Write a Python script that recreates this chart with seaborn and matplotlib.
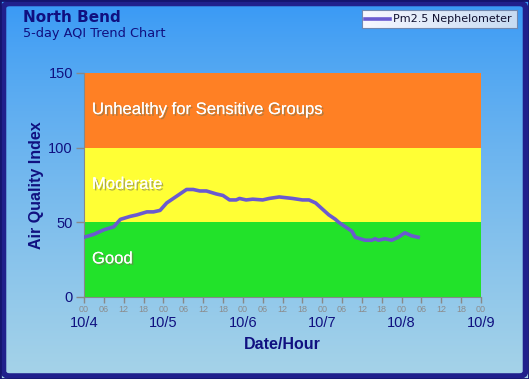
import numpy as np
import pandas as pd
import matplotlib
matplotlib.use("Agg")
import matplotlib.pyplot as plt
import seaborn as sns
import matplotlib.patheffects as pe
from matplotlib.patches import FancyBboxPatch, Rectangle
from matplotlib.lines import Line2D

# hours since 10/4 00:00 and AQI readings
hours = [0, 3, 6, 9, 11, 14, 16, 19, 21, 23, 25, 27, 29, 31, 33, 35, 37, 40, 42,
         44, 46, 47, 49, 51, 54, 56, 59, 61, 63, 66, 68, 70, 71, 73, 74, 76, 77,
         79, 81, 82, 85, 87, 88, 89, 91, 93, 95, 97, 99, 101]
aqi = [40, 42, 45, 47, 52, 54, 55, 57, 57, 58, 63, 66, 69, 72, 72, 71, 71, 69, 68,
       65, 65, 66, 65, 65.5, 65, 66, 67, 66.5, 66, 65, 65, 63, 61, 57, 55, 52, 50,
       47, 44, 40, 38, 38, 39, 38, 39, 38, 40, 43, 41, 40]

band_names = ["Good", "Moderate", "Unhealthy for Sensitive Groups"]
band_lo = [0, 50, 100]
band_hi = [50, 100, 150]
band_colors = ["#22e22a", "#ffff35", "#ff8024"]

day_labels = ["10/4", "10/5", "10/6", "10/7", "10/8", "10/9"]
hour_labels = ["00", "06", "12", "18"]
y_ticks = [0, 50, 100, 150]

series_name = "Pm2.5 Nephelometer"
df = pd.DataFrame({"hour": hours, "aqi": aqi})

navy = "#101080"
W, H = 529, 379
fig = plt.figure(figsize=(W / 100, H / 100), dpi=100)

# background gradient
bg = fig.add_axes([0, 0, 1, 1], zorder=-10)
grad = np.linspace(0, 1, 256).reshape(-1, 1)
top = np.array([0x36, 0x98, 0xf6]) / 255
bot = np.array([0xa6, 0xd3, 0xe8]) / 255
img = top + (bot - top) * grad[..., None] ** 0.8
bg.imshow(img.reshape(256, 1, 3), aspect="auto", extent=[0, 1, 0, 1])
bg.add_patch(FancyBboxPatch((3.5 / W, 3 / H), (W - 7) / W, (H - 6.5) / H,
                            boxstyle="round,pad=0,rounding_size=0.012",
                            fill=False, ec="#20208c", lw=4, transform=bg.transAxes))
bg.add_patch(Rectangle((0, 0), 1, 1, fill=False, ec="#14146e", lw=2, transform=bg.transAxes))
bg.set_xlim(0, 1)
bg.set_ylim(0, 1)
bg.axis("off")

ax = fig.add_axes([84 / W, 1 - 297 / H, 397 / W, 224 / H])
for name, lo, hi, c in zip(band_names, band_lo, band_hi, band_colors):
    ax.axhspan(lo, hi, color=c, zorder=0, lw=0)
    ax.text(2.4, (lo + hi) / 2 + 0.5, name, color="white", fontsize=12,
            family="Liberation Sans", va="center", ha="left", zorder=3,
            path_effects=[pe.withSimplePatchShadow(offset=(1.2, -1.2), shadow_rgbFace="#777755", alpha=0.6), pe.Normal()])

sns.lineplot(data=df, x="hour", y="aqi", ax=ax, color="#6a5ad0", lw=2.6, zorder=4, legend=False)

ax.set_xlim(0, 120)
ax.set_ylim(0, 150)
ax.set_yticks(y_ticks)
ax.set_yticklabels([str(v) for v in y_ticks], color=navy, fontsize=10.5, family="Liberation Sans")
ax.set_xticks(np.arange(0, 121, 6))
ax.set_xticklabels([hour_labels[(i // 6) % 4] for i in range(0, 121, 6)],
                   fontsize=6.5, color="#8c8c8c", family="Liberation Sans")
ax.tick_params(axis="x", length=4, width=1, color="#888888", pad=2)
ax.tick_params(axis="y", length=6, width=1, color="#888888", pad=2)
for i, d in enumerate(day_labels):
    ax.text(i * 24, -12.5, d, transform=ax.transData, ha="center", va="top",
            color=navy, fontsize=10.5, family="Liberation Sans")
ax.set_xlabel("Date/Hour", color=navy, fontsize=11.5, fontweight="bold",
              family="Liberation Sans", labelpad=16)
ax.set_ylabel("Air Quality Index", color=navy, fontsize=11.5, fontweight="bold",
              family="Liberation Sans", labelpad=3)
for s in ["top", "right"]:
    ax.spines[s].set_visible(False)
for s in ["left", "bottom"]:
    ax.spines[s].set_color("#888888")

fig.text(23 / W, 1 - 18 / H, "North Bend", color=navy, fontsize=11, fontweight="bold",
         family="DejaVu Sans", va="center")
fig.text(23 / W, 1 - 33 / H, "5-day AQI Trend Chart", color=navy, fontsize=9.3,
         family="DejaVu Sans", va="center")

# legend box
lg = fig.add_axes([362 / W, 1 - 28 / H, 155 / W, 18 / H], zorder=5)
lg_img = np.linspace(0, 1, 64).reshape(1, -1)
c1 = np.array([0.97, 0.97, 1.0])
c2 = np.array([0.78, 0.86, 0.95])
lg.imshow((c1 + (c2 - c1) * lg_img[..., None]), aspect="auto", extent=[0, 1, 0, 1])
lg.add_line(Line2D([0.02, 0.18], [0.5, 0.5], color="#6a5ad0", lw=2.6))
lg.text(0.2, 0.48, series_name, fontsize=8, family="DejaVu Sans", color="#101030", va="center")
lg.set_xlim(0, 1)
lg.set_ylim(0, 1)
lg.set_xticks([])
lg.set_yticks([])
for s in lg.spines.values():
    s.set_color("#7088b0")

fig.savefig("out.png", dpi=100)
